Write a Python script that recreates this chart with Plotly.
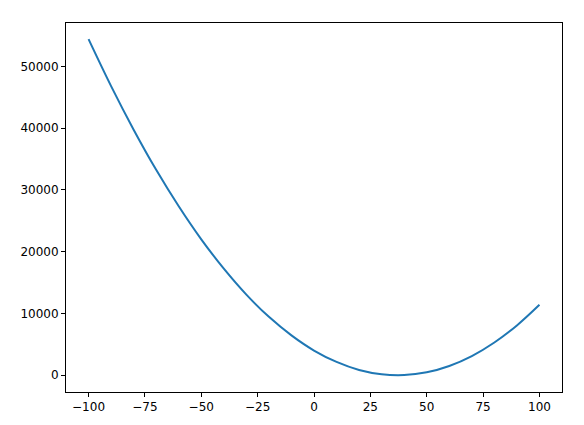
import plotly.graph_objects as go

# values
x_vals = [-100, -90, -80, -70, -60, -50, -40, -30, -20, -10, 0,
          10, 20, 30, 40, 50, 60, 70, 80, 90, 100]
y_vals = [54400, 46800, 39750, 33250, 27350, 22000, 17250, 13050, 9450, 6450, 4000,
          2150, 850, 150, 20, 470, 1500, 3100, 5300, 8060, 11400]

x_ticks = [-100, -75, -50, -25, 0, 25, 50, 75, 100]
x_labels = ["\u2212100", "\u221275", "\u221250", "\u221225", "0", "25", "50", "75", "100"]
y_ticks = [0, 10000, 20000, 30000, 40000, 50000]
y_labels = ["0", "10000", "20000", "30000", "40000", "50000"]

fig = go.Figure()
fig.add_trace(go.Scatter(x=x_vals, y=y_vals, mode="lines",
                         line=dict(color="#1f77b4", width=2, shape="spline"),
                         showlegend=False))

axis_style = dict(showline=True, linecolor="black", linewidth=1, mirror=True,
                  ticks="outside", ticklen=4, tickcolor="black", tickwidth=1,
                  showgrid=False, zeroline=False,
                  tickfont=dict(family="DejaVu Sans", size=12, color="black"))

fig.update_xaxes(range=[-110, 110], tickvals=x_ticks, ticktext=x_labels, **axis_style)
fig.update_yaxes(range=[-2715, 57015], tickvals=y_ticks, ticktext=y_labels, **axis_style)

# page body adds an 8px offset, so the figure is a bit smaller than the window
fig.update_layout(width=576, height=417,
                  margin=dict(l=58, r=22, t=15, b=33),
                  paper_bgcolor="white", plot_bgcolor="white")

fig.write_html("out.html")
